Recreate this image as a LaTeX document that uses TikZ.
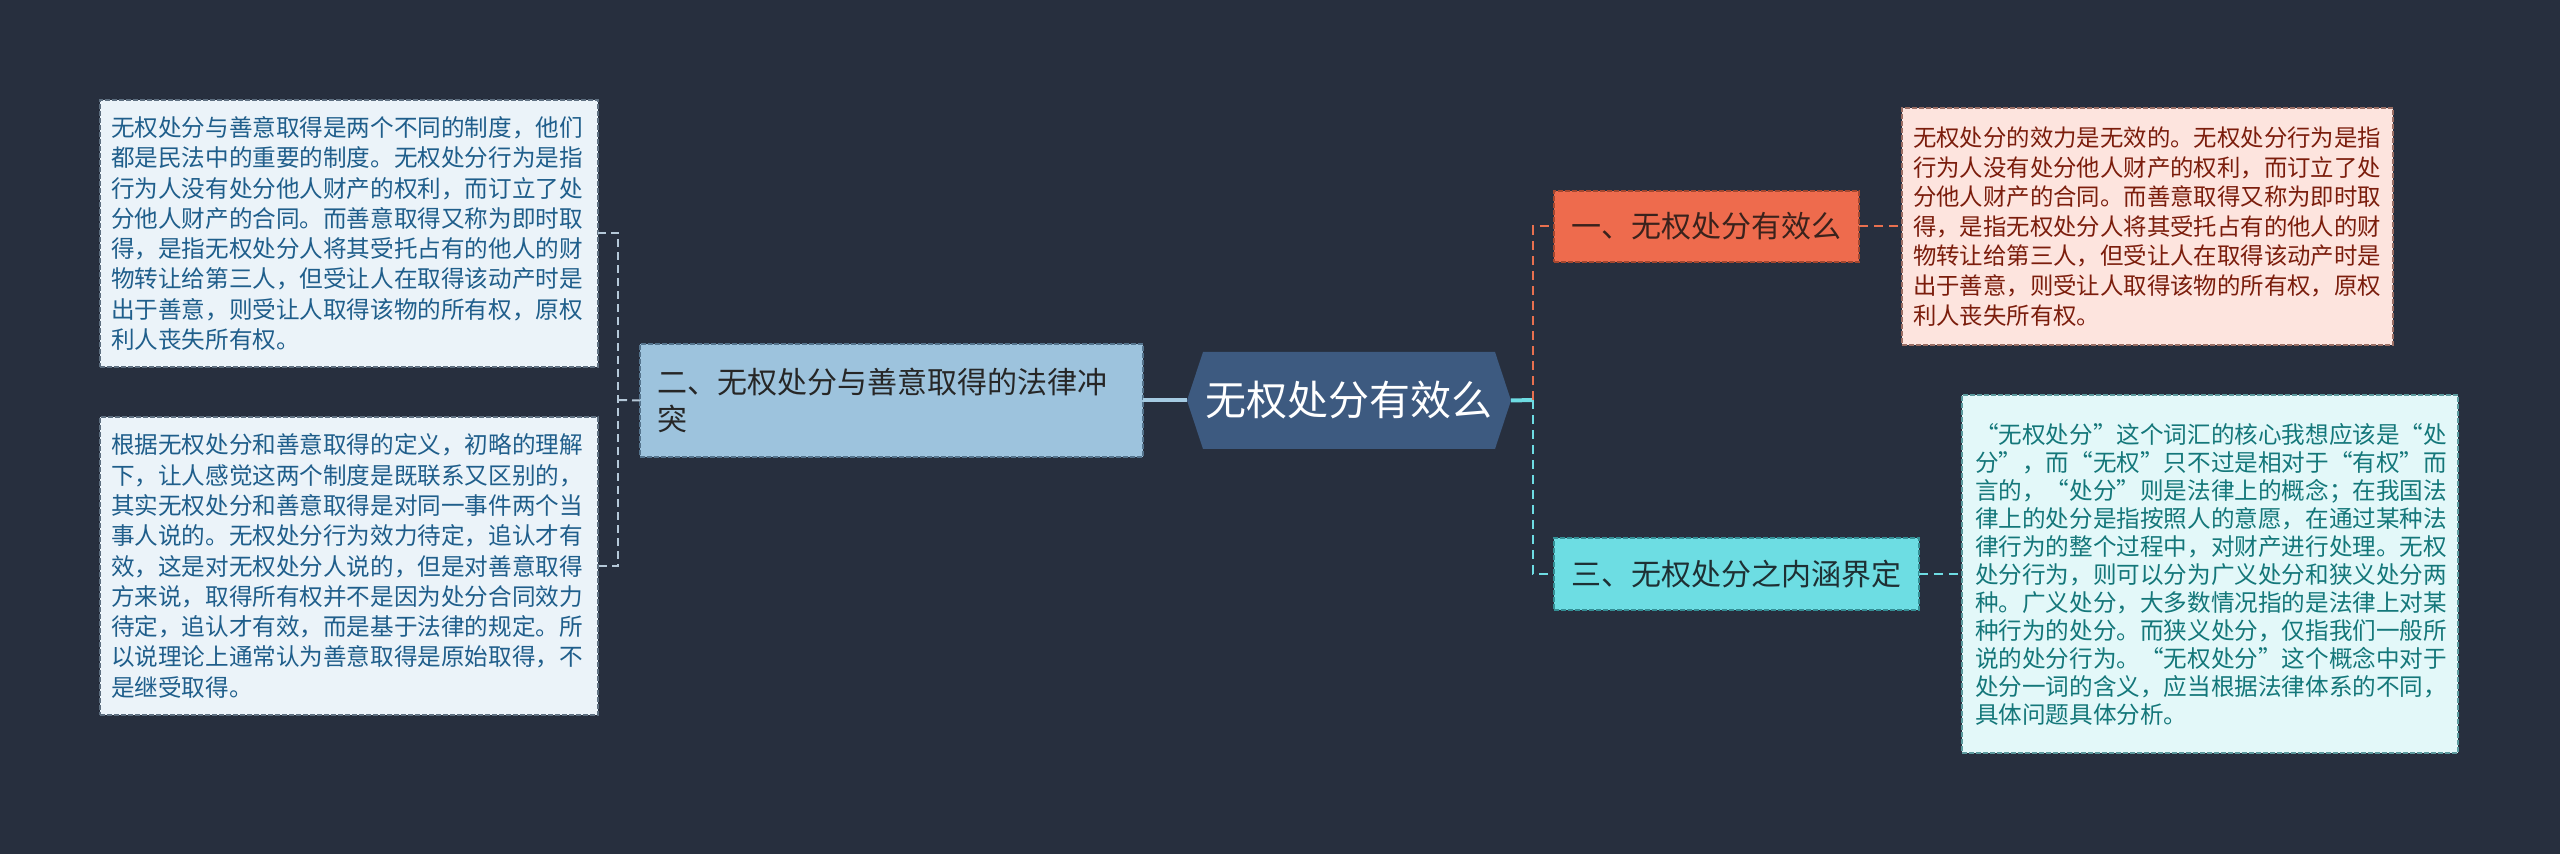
\documentclass[tikz,border=0pt]{standalone}
\usepackage{fontspec}
\setmainfont{Noto Sans CJK SC}
\usetikzlibrary{backgrounds}
\definecolor{bg}{HTML}{272F3E}
\definecolor{cfill}{HTML}{3D5A80}
\definecolor{bluefill}{HTML}{9DC3DD}
\definecolor{blueedge}{HTML}{55748D}
\definecolor{lfill}{HTML}{EBF3F9}
\definecolor{ledge}{HTML}{5E6F80}
\definecolor{ltext}{HTML}{1F5E8B}
\definecolor{ofill}{HTML}{EE6B4D}
\definecolor{oedge}{HTML}{A4472F}
\definecolor{otext}{HTML}{3A221C}
\definecolor{r1fill}{HTML}{FDE4DE}
\definecolor{r1edge}{HTML}{9A6E64}
\definecolor{r1text}{HTML}{7B1D0C}
\definecolor{tfill}{HTML}{6DDDE3}
\definecolor{tedge}{HTML}{348F95}
\definecolor{ttext}{HTML}{1E3034}
\definecolor{r2fill}{HTML}{E3F8F9}
\definecolor{r2edge}{HTML}{5C9A9E}
\definecolor{r2text}{HTML}{14777A}
\definecolor{lconncol}{HTML}{B5C8D8}
\definecolor{oconncol}{HTML}{E8704F}
\definecolor{cconncol}{HTML}{6EDCE3}
\definecolor{clinecol}{HTML}{A5CBE2}
\begin{document}
\begin{tikzpicture}[x=0.5pt,y=-0.5pt,
  every node/.style={inner sep=0pt,outer sep=0pt},
  boxedge/.style={draw=#1,line width=0.6pt,dash pattern=on 2.5pt off 1pt},
  leafbox/.style={anchor=north west,align=left,inner xsep=5.5pt,
    font=\fontsize{11.8}{15.15}\selectfont},
  topicbox/.style={anchor=north west,align=center,
    font=\fontsize{15}{18.5}\selectfont},
  lconn/.style={draw=lconncol,line width=1pt,dash pattern=on 4pt off 2.5pt},
  oconn/.style={draw=oconncol,line width=1pt,dash pattern=on 4.5pt off 3pt},
  cconn/.style={draw=cconncol,line width=1pt,dash pattern=on 4.5pt off 3pt}]
\begin{scope}[on background layer]
\fill[bg] (0,0) rectangle (2560,854);
\end{scope}
\useasboundingbox (0,0) rectangle (2560,854);

% central topic
\node[minimum width=146pt,minimum height=48.5pt,text=white,
  font=\fontsize{20.5}{24}\selectfont] (c) at (1349,400.5) {无权处分有效么};
\coordinate (cL) at ([xshift=-8pt]c.west);
\coordinate (cR) at ([xshift=8pt]c.east);
\begin{scope}[on background layer]
\fill[cfill] (c.north west) -- (c.north east) -- (cR) -- (c.south east)
  -- (c.south west) -- (cL) -- cycle;
\end{scope}

% left topic
\node[topicbox,align=left,text width=234.5pt,inner xsep=8.5pt,
  minimum width=251.5pt,minimum height=56.5pt,fill=bluefill,
  boxedge=blueedge,text=black!85] (n2) at (640,344)
  {二、无权处分与善意取得的法律冲\\突};

% left leaves
\node[leafbox,text width=238pt,minimum width=249pt,minimum height=133.5pt,
  fill=lfill,boxedge=ledge,text=ltext] (L1) at (100,100)
  {无权处分与善意取得是两个不同的制度，他们\\
都是民法中的重要的制度。无权处分行为是指\\
行为人没有处分他人财产的权利，而订立了处\\
分他人财产的合同。而善意取得又称为即时取\\
得，是指无权处分人将其受托占有的他人的财\\
物转让给第三人，但受让人在取得该动产时是\\
出于善意，则受让人取得该物的所有权，原权\\
利人丧失所有权。};
\node[leafbox,text width=238pt,minimum width=249pt,minimum height=149pt,
  fill=lfill,boxedge=ledge,text=ltext] (L2) at (100,417)
  {根据无权处分和善意取得的定义，初略的理解\\
下，让人感觉这两个制度是既联系又区别的，\\
其实无权处分和善意取得是对同一事件两个当\\
事人说的。无权处分行为效力待定，追认才有\\
效，这是对无权处分人说的，但是对善意取得\\
方来说，取得所有权并不是因为处分合同效力\\
待定，追认才有效，而是基于法律的规定。所\\
以说理论上通常认为善意取得是原始取得，不\\
是继受取得。};

% right topics
\node[topicbox,minimum width=152.5pt,minimum height=35.5pt,fill=ofill,
  boxedge=oedge,text=otext] (n1) at (1554,191) {一、无权处分有效么};
\node[topicbox,minimum width=182.5pt,minimum height=36pt,fill=tfill,
  boxedge=tedge,text=ttext] (n3) at (1554,538) {三、无权处分之内涵界定};

% right leaves
\node[leafbox,text width=234.5pt,minimum width=245.5pt,minimum height=118.5pt,
  fill=r1fill,boxedge=r1edge,text=r1text,
  font=\fontsize{11.7}{14.8}\selectfont] (R1) at (1902,108)
  {无权处分的效力是无效的。无权处分行为是指\\
行为人没有处分他人财产的权利，而订立了处\\
分他人财产的合同。而善意取得又称为即时取\\
得，是指无权处分人将其受托占有的他人的财\\
物转让给第三人，但受让人在取得该动产时是\\
出于善意，则受让人取得该物的所有权，原权\\
利人丧失所有权。};
\node[leafbox,inner xsep=6.5pt,text width=235pt,minimum width=248pt,minimum height=179pt,
  fill=r2fill,boxedge=r2edge,text=r2text,
  font=\fontsize{11.8}{14}\selectfont] (R2) at (1962,395)
  {“无权处分”这个词汇的核心我想应该是“处\\
分”，而“无权”只不过是相对于“有权”而\\
言的，“处分”则是法律上的概念；在我国法\\
律上的处分是指按照人的意愿，在通过某种法\\
律行为的整个过程中，对财产进行处理。无权\\
处分行为，则可以分为广义处分和狭义处分两\\
种。广义处分，大多数情况指的是法律上对某\\
种行为的处分。而狭义处分，仅指我们一般所\\
说的处分行为。“无权处分”这个概念中对于\\
处分一词的含义，应当根据法律体系的不同，\\
具体问题具体分析。};

% connectors
\coordinate (lj) at (618,400);
\coordinate (rj) at (1533,400);
\draw[draw=clinecol,line width=2pt] (cL) -- (n2.east);
\draw[lconn] (n2.west) -- (lj);
\draw[lconn] (L1.east) -| (lj) |- (L2.east);
\draw[draw=cconncol,line width=2pt] (cR) -- (rj);
\draw[oconn] (rj) |- (n1.west);
\draw[cconn] (rj) |- (n3.west);
\draw[oconn] (n1.east) -- (R1.west);
\draw[cconn] (n3.east) -- (R2.west);
\end{tikzpicture}
\end{document}
